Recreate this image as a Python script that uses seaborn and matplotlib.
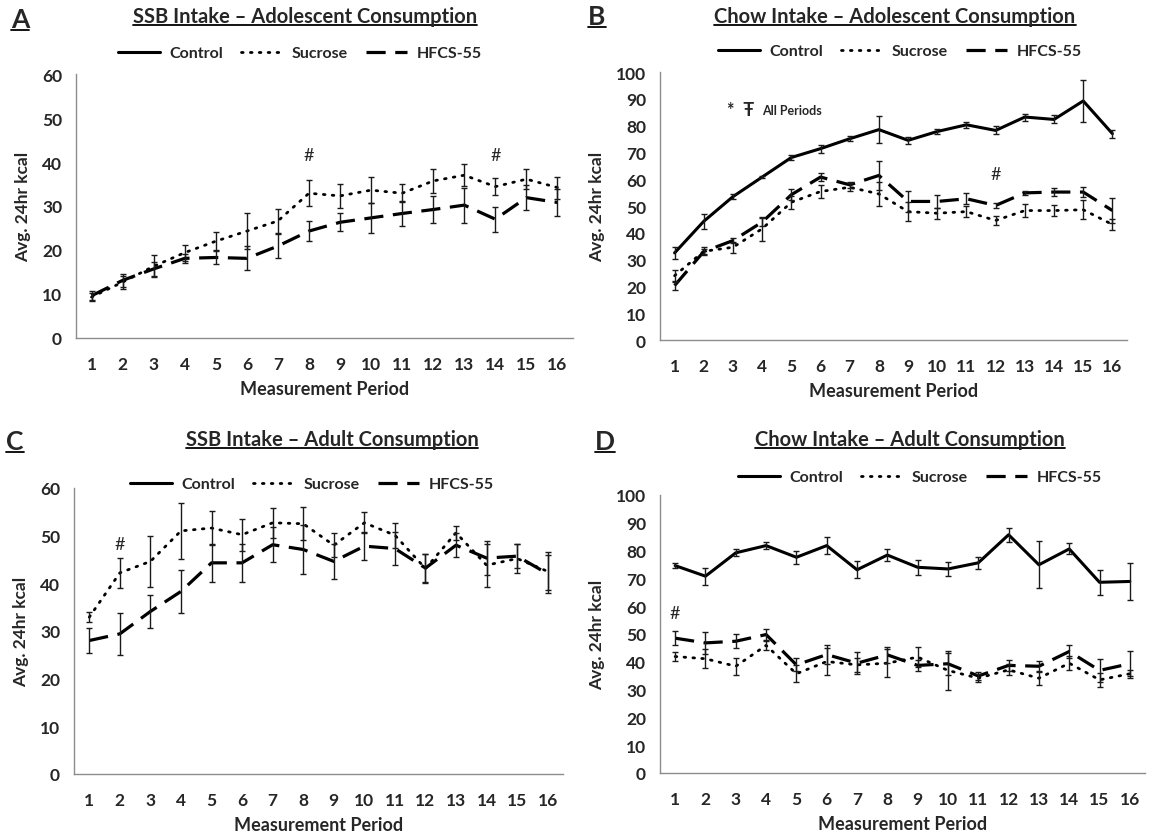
import numpy as np
import pandas as pd
import matplotlib
matplotlib.use("Agg")
import matplotlib.pyplot as plt
import seaborn as sns
from matplotlib.lines import Line2D

sns.set_theme(style="white")
plt.rcParams['font.family'] = ['Lato', 'DejaVu Sans']
plt.rcParams['font.weight'] = 'bold'

periods = list(range(1, 17))
groups = ["Control", "Sucrose", "HFCS-55"]

# Panel A: SSB intake, adolescent consumption
a_sucrose = [9.3, 12.7, 16.3, 19.4, 22.0, 24.3, 26.6, 32.9, 32.3, 33.6, 32.9, 35.7, 37.0, 34.4, 36.1, 34.2]
a_sucrose_err = [1.0, 1.5, 2.5, 1.8, 2.0, 4.0, 2.7, 3.0, 2.7, 3.0, 2.0, 2.8, 2.5, 2.0, 2.2, 2.5]
a_hfcs = [9.6, 13.1, 15.7, 18.1, 18.3, 18.1, 20.9, 24.3, 26.3, 27.3, 28.3, 29.2, 30.2, 27.0, 31.9, 30.8]
a_hfcs_err = [1.0, 1.5, 1.5, 1.0, 1.5, 2.7, 2.7, 2.3, 2.0, 3.4, 2.8, 3.0, 4.0, 2.8, 2.8, 3.0]

# Panel B: chow intake, adolescent consumption
b_control = [32.5, 44.3, 53.5, 60.8, 68.1, 71.4, 75.1, 78.5, 74.5, 77.8, 80.3, 78.2, 83.2, 82.3, 89.2, 77.0]
b_control_err = [2.3, 2.7, 1.0, 0.5, 1.0, 1.5, 1.0, 5.0, 1.3, 1.0, 1.2, 1.5, 1.3, 1.5, 7.8, 1.5]
b_sucrose = [24.0, 33.1, 34.6, 41.5, 51.4, 55.4, 57.0, 54.5, 47.9, 47.3, 47.9, 44.6, 48.3, 48.3, 48.6, 43.1]
b_sucrose_err = [2.0, 1.5, 2.0, 4.5, 2.5, 2.5, 1.5, 4.5, 3.5, 2.0, 2.0, 1.8, 2.3, 2.0, 3.5, 2.0]
b_hfcs = [20.3, 33.0, 37.1, 44.0, 54.2, 60.8, 57.9, 61.4, 51.7, 51.7, 52.7, 50.2, 54.9, 55.2, 55.2, 48.3]
b_hfcs_err = [1.5, 1.0, 1.0, 1.5, 2.0, 1.5, 1.0, 5.5, 4.0, 2.3, 2.0, 1.0, 0.8, 1.5, 1.8, 4.5]

# Panel C: SSB intake, adult consumption
c_sucrose = [32.9, 42.2, 44.6, 51.0, 51.6, 50.2, 52.7, 52.5, 48.0, 52.7, 50.1, 43.1, 50.6, 43.8, 45.2, 42.5]
c_sucrose_err = [1.0, 3.1, 5.4, 5.9, 3.6, 3.4, 3.1, 3.5, 2.5, 2.2, 2.6, 3.0, 1.5, 4.5, 3.0, 4.0]
c_hfcs = [28.0, 29.4, 34.1, 38.3, 44.3, 44.3, 48.1, 47.1, 44.6, 47.8, 47.3, 43.2, 48.0, 45.3, 45.7, 42.0]
c_hfcs_err = [2.7, 4.4, 3.5, 4.6, 4.0, 4.0, 3.7, 5.2, 3.7, 3.0, 3.5, 3.0, 2.5, 3.5, 2.5, 4.0]

# Panel D: chow intake, adult consumption
d_control = [74.6, 70.8, 79.2, 81.8, 77.6, 81.8, 73.1, 78.4, 74.0, 73.4, 75.6, 85.7, 74.9, 80.6, 68.6, 68.9]
d_control_err = [1.0, 3.0, 1.3, 1.3, 2.3, 3.2, 3.1, 2.2, 2.6, 2.6, 2.2, 2.5, 8.5, 2.0, 4.5, 6.5]
d_sucrose = [41.9, 41.1, 38.4, 45.9, 35.7, 40.1, 38.9, 39.5, 41.7, 36.9, 34.1, 37.1, 34.1, 39.5, 33.5, 35.7]
d_sucrose_err = [1.5, 3.5, 3.0, 1.5, 3.0, 5.0, 2.5, 5.0, 3.5, 7.0, 1.5, 2.0, 2.5, 2.5, 2.5, 1.5]
d_hfcs = [48.5, 46.8, 47.4, 49.8, 38.9, 42.6, 39.5, 42.5, 38.7, 39.3, 34.9, 38.7, 38.4, 43.7, 36.9, 39.3]
d_hfcs_err = [2.5, 4.0, 2.5, 2.0, 2.3, 3.5, 4.0, 3.0, 2.0, 4.0, 1.5, 2.0, 2.0, 2.3, 4.0, 4.5]

W, H = 1151, 837
fig = plt.figure(figsize=(W / 100, H / 100), dpi=100)
fig.patch.set_facecolor('white')

styles = {
    "Control": dict(linestyle='-', lw=2.2),
    "Sucrose": dict(linestyle=(0, (0.6, 2.6)), lw=2.0, dash_capstyle='round'),
    "HFCS-55": dict(linestyle=(0, (6, 3)), lw=2.3),
}


def px_axes(left, right, top, bottom):
    return fig.add_axes([left / W, 1 - bottom / H, (right - left) / W, (bottom - top) / H])


def draw_series(ax, vals, errs, name):
    df = pd.DataFrame({"period": periods, "kcal": vals})
    sns.lineplot(data=df, x="period", y="kcal", ax=ax, color='black', legend=False,
                 zorder=3, **styles[name])
    ax.errorbar(periods, vals, yerr=errs, fmt='none', ecolor='#1a1a1a', elinewidth=1.0,
                capsize=2.5, capthick=1.0, zorder=4)


def style_axes(ax, ymax, ystep):
    ax.set_xlim(0.5, 16.5)
    ax.set_ylim(0, ymax)
    ax.set_yticks(np.arange(0, ymax + 1, ystep))
    ax.set_xticks(periods)
    ax.set_xticks(np.arange(0.5, 17, 1), minor=True)
    ax.tick_params(axis='x', which='major', length=0, pad=13, labelsize=12.5)
    ax.tick_params(axis='x', which='minor', length=5, width=1, color='#8c8c8c', direction='out')
    ax.tick_params(axis='y', which='major', length=4, width=1, color='#8c8c8c', direction='out',
                   pad=6, labelsize=12.5)
    for lab in ax.get_xticklabels() + ax.get_yticklabels():
        lab.set_fontweight('bold')
    for s in ['top', 'right']:
        ax.spines[s].set_visible(False)
    for s in ['left', 'bottom']:
        ax.spines[s].set_color('#8c8c8c')
        ax.spines[s].set_linewidth(1.0)
    ax.set_xlabel("Measurement Period", fontsize=13, fontweight='bold', labelpad=6)
    ax.set_ylabel("Avg. 24hr kcal", fontsize=12.5, fontweight='bold', labelpad=8)
    ax.set_facecolor('white')
    ax.grid(False)


def add_legend(ax, cx, cy):
    handles = [Line2D([], [], color='black', **styles[g]) for g in groups]
    leg = ax.legend(handles, groups, loc='center', bbox_to_anchor=(cx / W, 1 - cy / H),
                    bbox_transform=fig.transFigure, ncol=3, frameon=False, handlelength=2.6,
                    handletextpad=0.6, columnspacing=1.1,
                    prop={'weight': 'bold', 'size': 11.5})
    return leg


underline_texts = []


def utext(x, y, s, size):
    t = fig.text(x / W, 1 - y / H, s, fontsize=size, fontweight='bold', ha='center', va='center')
    underline_texts.append(t)
    return t


# Panel A
axA = px_axes(76, 573, 75, 339)
draw_series(axA, a_sucrose, a_sucrose_err, "Sucrose")
draw_series(axA, a_hfcs, a_hfcs_err, "HFCS-55")
style_axes(axA, 60, 10)
add_legend(axA, 300, 54)
for p in [8, 14]:
    axA.text(p, 41.5, "#", ha='center', va='center', fontsize=13, fontweight='normal')
utext(305, 17, "SSB Intake – Adolescent Consumption", 14.5)
utext(20, 20, "A", 19)

# Panel B
axB = px_axes(660, 1127, 73, 341)
draw_series(axB, b_control, b_control_err, "Control")
draw_series(axB, b_sucrose, b_sucrose_err, "Sucrose")
draw_series(axB, b_hfcs, b_hfcs_err, "HFCS-55")
style_axes(axB, 100, 10)
add_legend(axB, 900, 52)
axB.text(12, 62, "#", ha='center', va='center', fontsize=13, fontweight='normal')
axB.text(2.8, 86, "*  Ŧ", ha='left', va='center', fontsize=13, fontweight='bold')
axB.text(4.0, 86, "All Periods", ha='left', va='center', fontsize=9, fontweight='bold')
utext(895, 17, "Chow Intake – Adolescent Consumption", 14.5)
utext(597, 17, "B", 19)

# Panel C
axC = px_axes(74, 563, 489, 775)
draw_series(axC, c_sucrose, c_sucrose_err, "Sucrose")
draw_series(axC, c_hfcs, c_hfcs_err, "HFCS-55")
style_axes(axC, 60, 10)
add_legend(axC, 312, 485)
axC.text(2, 48.3, "#", ha='center', va='center', fontsize=13, fontweight='normal')
utext(332, 440, "SSB Intake – Adult Consumption", 14.5)
utext(15, 442, "C", 19)

# Panel D
axD = px_axes(660, 1145, 496, 774)
draw_series(axD, d_control, d_control_err, "Control")
draw_series(axD, d_sucrose, d_sucrose_err, "Sucrose")
draw_series(axD, d_hfcs, d_hfcs_err, "HFCS-55")
style_axes(axD, 100, 10)
add_legend(axD, 920, 478)
axD.text(1, 57.5, "#", ha='center', va='center', fontsize=13, fontweight='normal')
utext(910, 440, "Chow Intake – Adult Consumption", 14.5)
utext(605, 442, "D", 19)

# underline titles and panel letters
fig.canvas.draw()
renderer = fig.canvas.get_renderer()
for t in underline_texts:
    bb = t.get_window_extent(renderer=renderer)
    y = (bb.y0 + 1) / H
    fig.add_artist(Line2D([bb.x0 / W, bb.x1 / W], [y, y], color='black', lw=1.3,
                          transform=fig.transFigure))

fig.savefig("out.png", dpi=100, facecolor='white')
